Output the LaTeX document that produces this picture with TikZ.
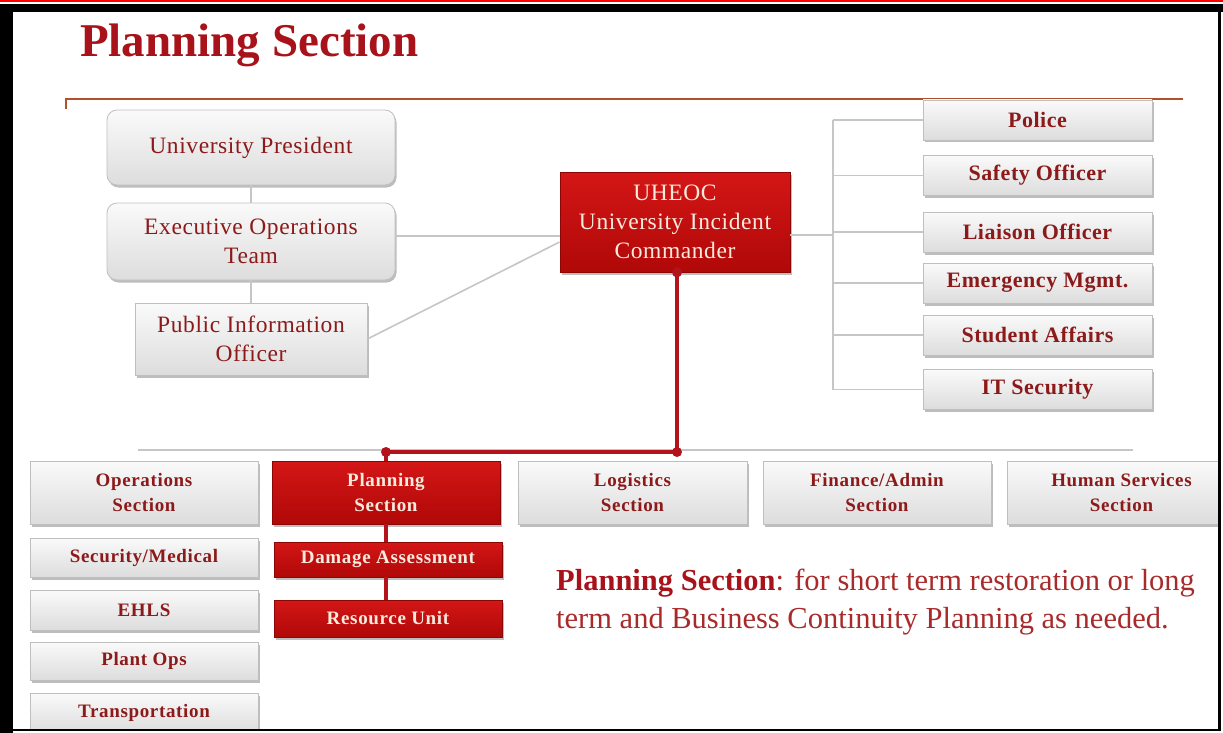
\documentclass[tikz,border=0pt]{standalone}
\usepackage{fontspec}
\setmainfont{Liberation Serif}
\usetikzlibrary{shadows,calc}
\definecolor{titlered}{HTML}{A8121A}
\definecolor{boxtext}{HTML}{8C1A1A}
\definecolor{redtop}{HTML}{D41616}
\definecolor{redbot}{HTML}{B00808}
\definecolor{redline}{HTML}{B3141C}
\definecolor{cream}{HTML}{F8EBDD}
\definecolor{rulecol}{HTML}{B0502C}
\definecolor{conn}{HTML}{C6C6C6}
\definecolor{captext}{HTML}{A82A2A}
\begin{document}
\begin{tikzpicture}[x=1pt,y=-1pt,
  boxshadow/.style={drop shadow={shadow xshift=1.5pt, shadow yshift=-2.5pt, fill=black!65, opacity=0.4}},
  gbox/.style={draw=gray!50, line width=0.8pt, top color=gray!4, bottom color=gray!27,
    inner sep=0pt, align=center, text=boxtext, boxshadow},
  rbox/.style={draw=redbot!80!black, line width=0.8pt, top color=redtop, bottom color=redbot,
    inner sep=0pt, align=center, text=cream, boxshadow},
  bigtxt/.style={font=\fontsize{23.5}{29}\selectfont\addfontfeature{LetterSpace=2.5}},
  midtxt/.style={font=\bfseries\fontsize{22}{27}\selectfont\addfontfeature{LetterSpace=2.5}},
  smalltxt/.style={font=\bfseries\fontsize{19}{25}\selectfont\addfontfeature{LetterSpace=3.5}},
  connline/.style={draw=conn, line width=1.6pt},
  redconn/.style={draw=redline, line width=3.5pt},
  dot/.style={circle, fill=redline, inner sep=0pt, minimum size=10pt}
]
\useasboundingbox (0,0) rectangle (1223,733);
% frame
\fill[red] (0,0) rectangle (1223,2.5);
\fill[black] (0,4) rectangle (1223,12.5);
\fill[black] (0,4) rectangle (13,733);

% title and rule
\node[anchor=base west, inner sep=0pt, text=titlered, font=\bfseries\fontsize{47}{50}\selectfont] (title) at (80,57) {Planning Section};
\draw[rulecol, line width=2pt] (66,109) -- (66,99) -- (1183,99);

% upper left boxes
\node[gbox, bigtxt, rounded corners=10pt, minimum width=288pt, minimum height=75pt] (up) at (251,147.5) {University President};
\node[gbox, bigtxt, rounded corners=10pt, minimum width=288pt, minimum height=77pt] (eot) at (251,241.5) {Executive Operations\\Team};
\node[gbox, bigtxt, minimum width=232pt, minimum height=72pt] (pio) at (251,339) {Public Information\\Officer};

% commander
\node[rbox, bigtxt, minimum width=230pt, minimum height=100pt] (uc) at (675,222) {UHEOC\\University Incident\\Commander};

% right staff boxes
\foreach \n/\y/\t in {r1/120/Police, r2/175.5/Safety Officer, r3/232/Liaison Officer, r4/283/Emergency Mgmt., r5/335/Student Affairs, r6/389.5/IT Security}{
  \node[gbox, midtxt, minimum width=229pt, minimum height=40pt] (\n) at (1037.5,\y) {\t};
}

% bottom row sections
\node[gbox, smalltxt, minimum width=228pt, minimum height=63pt] (ops) at (144,492.5) {Operations\\Section};
\node[rbox, smalltxt, minimum width=228pt, minimum height=63pt] (plan) at (386,492.5) {Planning\\Section};
\node[gbox, smalltxt, minimum width=229pt, minimum height=63pt] (log) at (632.5,492.5) {Logistics\\Section};
\node[gbox, smalltxt, minimum width=228pt, minimum height=63pt] (fin) at (877,492.5) {Finance/Admin\\Section};
\node[gbox, smalltxt, minimum width=229pt, minimum height=63pt] (hs) at (1121.5,492.5) {Human Services\\Section};

% operations sub units
\node[gbox, smalltxt, minimum width=228pt, minimum height=39pt] (sm) at (144,557.5) {Security/Medical};
\node[gbox, smalltxt, minimum width=228pt, minimum height=40pt] (ehls) at (144,610) {EHLS};
\node[gbox, smalltxt, minimum width=228pt, minimum height=38pt] (po) at (144,661) {Plant Ops};
\node[gbox, smalltxt, minimum width=228pt, minimum height=40pt] (tr) at (144,713) {Transportation};

% planning sub units
\node[rbox, smalltxt, minimum width=228pt, minimum height=35pt] (da) at (388,559.5) {Damage Assessment};
\node[rbox, smalltxt, minimum width=228pt, minimum height=37pt] (ru) at (388,618.5) {Resource Unit};

% gray connectors
\draw[connline] (up.south) -- (eot.north);
\draw[connline] (eot.south) -- (pio.north);
\coordinate (ucA) at ($(uc.west)+(0,14)$);
\coordinate (ucB) at ($(uc.west)+(0,20)$);
\draw[connline] (eot.east |- ucA) -- (ucA);
\draw[connline] (pio.east) -- (ucB);
\coordinate (brk) at (833,235);
\draw[connline] ($(uc.east)+(0,13)$) -- (brk);
\draw[connline] (r1.west -| brk) -- (r6.west -| brk);
\foreach \n in {r1,r2,r3,r4,r5,r6}{
  \draw[connline] (\n.west -| brk) -- (\n.west);
}
\coordinate (hl) at (138,450);
\coordinate (hr) at (1133,450);
\draw[connline] (hl) -- (hr);

% red connectors
\coordinate (rc) at (677,452);
\draw[redconn] (uc.south -| rc) -- (rc) -- (rc -| plan.north) -- (plan.north);
\node[dot] (d1) at (uc.south -| rc) {};
\node[dot] (d2) at (rc) {};
\node[dot] (d3) at (rc -| plan.north) {};
\draw[redconn] (plan.south) -- (plan.south |- da.north);
\draw[redconn] (da.south -| plan.south) -- (plan.south |- ru.north);

% caption
\node[anchor=base west, inner sep=0pt, text=captext, font=\fontsize{30.5}{38}\selectfont] (cap1) at (556,590) {\textbf{\color{titlered}Planning Section}: for short term restoration or long};
\node[anchor=base west, inner sep=0pt, text=captext, font=\fontsize{30.5}{38}\selectfont] (cap2) at (556,628) {term and Business Continuity Planning as needed.};

% frame right and bottom lines (on top)
\fill[black] (1218,12) rectangle (1221,731);
\fill[black] (0,728.5) rectangle (1221,731);
\fill[white] (1221,12.5) rectangle (1223,733);
\fill[white] (13,731) rectangle (1223,733);
\end{tikzpicture}
\end{document}
